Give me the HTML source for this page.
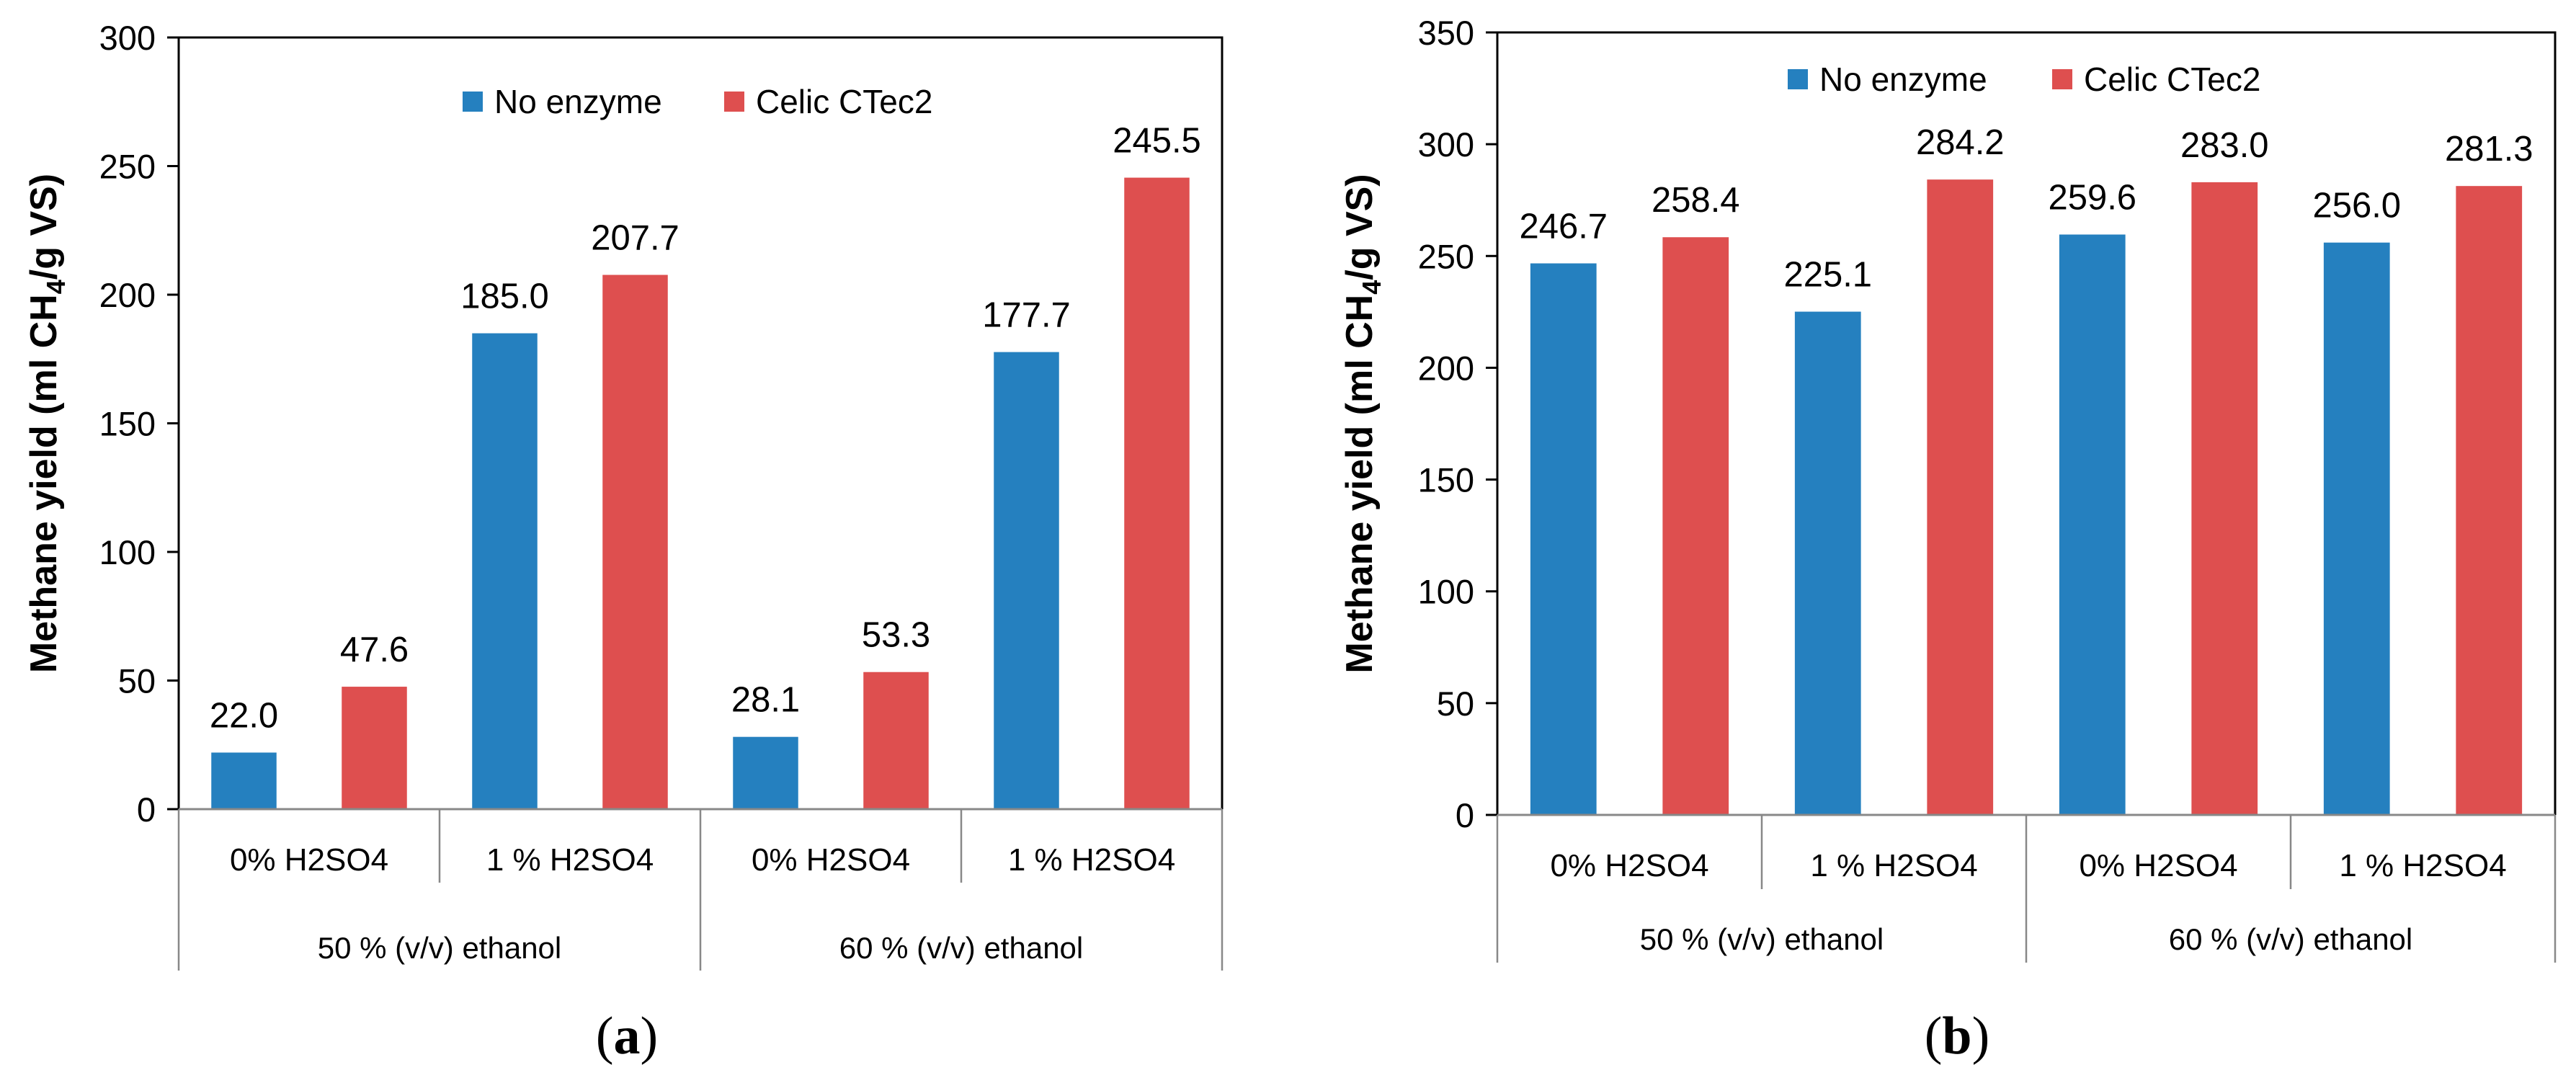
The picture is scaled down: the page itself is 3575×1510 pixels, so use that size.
<!DOCTYPE html>
<html><head><meta charset="utf-8"><style>
html,body{margin:0;padding:0;background:#fff;}
svg{display:block;font-family:"Liberation Sans",sans-serif;}
</style></head><body>
<svg id="fig" width="3575" height="1510" viewBox="0 0 3575 1510" xmlns="http://www.w3.org/2000/svg"></svg>
<script>
const categories = ["0% H2SO4", "1 % H2SO4", "0% H2SO4", "1 % H2SO4"];
const groups = ["50 % (v/v) ethanol", "60 % (v/v) ethanol"];
const seriesNames = ["No enzyme", "Celic CTec2"];
const aBlue = [22.0, 185.0, 28.1, 177.7];
const aRed = [47.6, 207.7, 53.3, 245.5];
const bBlue = [246.7, 225.1, 259.6, 256.0];
const bRed = [258.4, 284.2, 283.0, 281.3];
const aTicks = [0, 50, 100, 150, 200, 250, 300];
const bTicks = [0, 50, 100, 150, 200, 250, 300, 350];

const NS = "http://www.w3.org/2000/svg";
const svg = document.getElementById("fig");
const COLORS = ["#2580BF", "#DE4F4F"];
function el(tag, attrs, parent, text) {
  const e = document.createElementNS(NS, tag);
  for (const k in attrs) e.setAttribute(k, attrs[k]);
  if (text !== undefined) e.textContent = text;
  (parent || svg).appendChild(e);
  return e;
}

function drawChart(cfg) {
  const g = el("g", {});
  
  
  const x0 = cfg.x0, top = cfg.top, base = cfg.base, cw = cfg.cw;
  const maxV = cfg.ticks[cfg.ticks.length - 1];
  const y = v => base - (v / maxV) * (base - top);
  const x1 = x0 + cw * categories.length;
  [cfg.blue, cfg.red].forEach((vals, s) => {
    vals.forEach((v, i) => {
      const cx = x0 + cw * (i + 0.5) + (s === 0 ? -1 : 1) * cw * 0.25;
      const bw = cw * 0.25;
      const r = el("rect", {x: cx - bw / 2, y: y(v), width: bw, height: base - y(v), fill: COLORS[s]}, g);
      
      
      const t = el("text", {x: cx, y: y(v) - 35, "font-size": 49, "text-anchor": "middle", fill: "#000"}, g, v.toFixed(1));
      
      
    });
  });
  const fr = el("path", {d: `M${x0} ${base} V${top} H${x1} V${base}`, fill: "none", stroke: "#000", "stroke-width": 3}, g);
  
  
  cfg.ticks.forEach(tv => {
    el("line", {x1: x0 - 16, x2: x0, y1: y(tv), y2: y(tv), stroke: "#000", "stroke-width": 3}, g);
    const t = el("text", {x: x0 - 32, y: y(tv) + 17, "font-size": 47, "text-anchor": "end", fill: "#000"}, g, String(tv));
    
    
  });
  el("line", {x1: x0, x2: x1, y1: base, y2: base, stroke: "#888", "stroke-width": 3}, g);
  for (let i = 0; i <= categories.length; i++) {
    const lx = x0 + cw * i;
    const bottom = (i % 2 === 0) ? cfg.outerBottom : cfg.innerBottom;
    el("line", {x1: lx, x2: lx, y1: base, y2: bottom, stroke: "#888", "stroke-width": 2.5}, g);
  }
  categories.forEach((c, i) => {
    const t = el("text", {x: x0 + cw * (i + 0.5), y: cfg.catY, "font-size": 44, "text-anchor": "middle", fill: "#000"}, g, c);
    
    
  });
  groups.forEach((gname, i) => {
    const t = el("text", {x: x0 + cw * (2 * i + 1), y: cfg.grpY, "font-size": 42, "text-anchor": "middle", fill: "#000"}, g, gname);
    
    
  });
  const yt = el("text", {x: 0, y: 0, "font-size": 52, "font-weight": "bold", "text-anchor": "middle", fill: "#000",
    transform: `translate(${cfg.titleX},${(top + base) / 2}) rotate(-90)`}, g);
  
  
  el("tspan", {}, yt, "Methane yield (ml CH");
  el("tspan", {"font-size": 36, dy: 12}, yt, "4");
  el("tspan", {dy: -12}, yt, "/g VS)");
  cfg.legendX.forEach((lx, s) => {
    const lg = el("g", {}, g);
    
    
    el("rect", {x: lx, y: cfg.legendY, width: 28, height: 28, fill: COLORS[s]}, lg);
    el("text", {x: lx + 44, y: cfg.legendY + 30, "font-size": 46, fill: "#000"}, lg, seriesNames[s]);
  });
  const pl = el("text", {x: cfg.panelX, y: 1462, "font-size": 74, "text-anchor": "middle", fill: "#000", "font-family": "Liberation Serif, serif"}, g);
  
  
  el("tspan", {}, pl, "(");
  el("tspan", {"font-weight": "bold"}, pl, cfg.panel);
  el("tspan", {}, pl, ")");
}

drawChart({name: "chart-a", x0: 248, top: 52, base: 1123, cw: 362, ticks: aTicks, blue: aBlue, red: aRed,
  innerBottom: 1225, outerBottom: 1347, catY: 1208, grpY: 1330, titleX: 78, legendX: [642, 1005], legendY: 127,
  panelX: 870, panel: "a"});
drawChart({name: "chart-b", x0: 2078, top: 45, base: 1131, cw: 367, ticks: bTicks, blue: bBlue, red: bRed,
  innerBottom: 1234, outerBottom: 1336, catY: 1216, grpY: 1318, titleX: 1904, legendX: [2481, 2848], legendY: 96,
  panelX: 2716, panel: "b"});
</script>
</body></html>
